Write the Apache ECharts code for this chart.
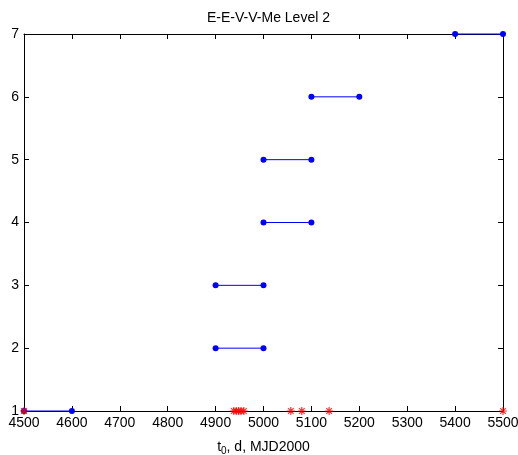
<!DOCTYPE html>
<html><head><meta charset="utf-8">
<script src="https://cdn.jsdelivr.net/npm/echarts@6/dist/echarts.min.js"></script>
</head><body style="margin:0;background:#fff">
<div id="c" style="width:518px;height:455px"></div>
<script>
const titleText = 'E-E-V-V-Me Level 2';
const segLevel = [1, 2, 3, 4, 5, 6, 7];
const segStart = [4500, 4900, 4900, 5000, 5000, 5100, 5400];
const segEnd   = [4600, 5000, 5000, 5100, 5100, 5200, 5500];
const starTimes = [4500, 4938, 4943, 4948, 4953, 4959, 5057, 5080, 5137, 5500];
const starLevel = 1;
const xRange = [4500, 5500], xStep = 100;
const yRange = [1, 7], yStep = 1;

const font = 'Liberation Sans, Arial, sans-serif';
const blue = '#0000ff', red = '#ff0000';
const starPath = 'path://M0,-10L0,10M-10,0L10,0M-7,-7L7,7M-7,7L7,-7';

const series = [];
segLevel.forEach((lv, i) => {
  series.push({
    type: 'line', xAxisIndex: 0, yAxisIndex: 0, clip: false,
    data: [[segStart[i], lv], [segEnd[i], lv]],
    symbol: 'circle', symbolSize: 6, showSymbol: true,
    color: blue,
    lineStyle: { color: blue, width: 1 },
    itemStyle: { color: blue, borderWidth: 0 },
    emphasis: { disabled: true },
    animation: false, silent: true, z: 3
  });
});
series.push({
  type: 'scatter', clip: false,
  data: starTimes.map(t => [t, starLevel]),
  symbol: starPath, symbolSize: 8,
  itemStyle: { color: red, borderColor: red, borderWidth: 1.2 },
  animation: false, silent: true, z: 4
});

const axisCommon = {
  axisLine: { show: true, onZero: false, lineStyle: { color: '#000', width: 1 } },
  axisTick: { show: true, inside: true, length: 5, lineStyle: { color: '#000' } },
  splitLine: { show: false }
};
const plain = v => String(v);

const chart = echarts.init(document.getElementById('c'), null, { renderer: 'canvas' });
chart.setOption({
  animation: false,
  backgroundColor: '#fff',
  title: {
    text: titleText, left: 263.5, textAlign: 'center', top: 6,
    textStyle: { fontFamily: font, fontSize: 14, fontWeight: 'normal', color: '#000' }
  },
  grid: { left: 24, right: 15, top: 34, bottom: 44, containLabel: false, outerBoundsMode: 'none' },
  xAxis: [
    Object.assign({}, axisCommon, {
      type: 'value', position: 'bottom', min: xRange[0], max: xRange[1], interval: xStep,
      axisLabel: { fontFamily: font, fontSize: 14, color: '#000', margin: 5, formatter: plain, hideOverlap: false },
      name: '{t|t}{s|0}{t|, d, MJD2000}', nameLocation: 'middle', nameGap: 27,
      nameTextStyle: {
        fontFamily: font, color: '#000',
        rich: {
          t: { fontFamily: font, fontSize: 14, color: '#000', lineHeight: 18, verticalAlign: 'middle' },
          s: { fontFamily: font, fontSize: 10, color: '#000', lineHeight: 18, verticalAlign: 'bottom', padding: [8, 0, 0, 0] }
        }
      }
    }),
    Object.assign({}, axisCommon, {
      type: 'value', position: 'top', min: xRange[0], max: xRange[1], interval: xStep,
      axisLabel: { show: false }
    })
  ],
  yAxis: [
    Object.assign({}, axisCommon, {
      type: 'value', position: 'left', min: yRange[0], max: yRange[1], interval: yStep,
      axisLabel: { fontFamily: font, fontSize: 14, color: '#000', margin: 5, formatter: plain }
    }),
    Object.assign({}, axisCommon, {
      type: 'value', position: 'right', min: yRange[0], max: yRange[1], interval: yStep,
      axisLabel: { show: false }
    })
  ],
  series: series
});
</script>
</body></html>
